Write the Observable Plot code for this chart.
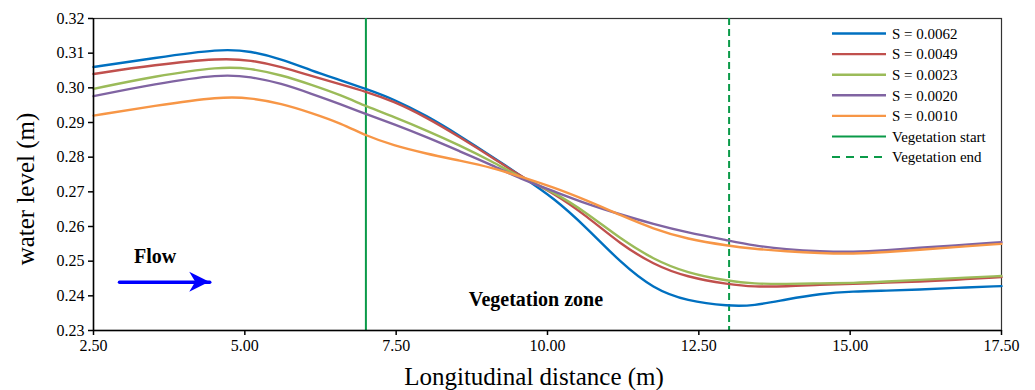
<!DOCTYPE html>
<html>
<head>
<meta charset="utf-8">
<script src="https://cdn.jsdelivr.net/npm/d3@7"></script>
<script src="https://cdn.jsdelivr.net/npm/@observablehq/plot@0.6"></script>
<style>
  html, body { margin: 0; padding: 0; background: #fff; }
  #chart { width: 1035px; height: 390px; }
</style>
</head>
<body>
<div id="chart"></div>
<script>
// ---- data ----
const distance = [2.5, 3.5, 4.6, 5.1, 5.6, 6.1, 6.6, 7.0, 7.45, 8.0, 8.55, 9.1, 9.55, 10.1, 10.65, 11.2, 11.75, 12.3, 13.0, 13.4, 13.95, 14.5, 15.05, 15.6, 16.15, 16.7, 17.5];
const s0062 = [0.3060, 0.3086, 0.3113, 0.3106, 0.3083, 0.3050, 0.3021, 0.2997, 0.2968, 0.2920, 0.2862, 0.2800, 0.2747, 0.2683, 0.2596, 0.2497, 0.2420, 0.2385, 0.2370, 0.2371, 0.2390, 0.2406, 0.2413, 0.2415, 0.2418, 0.2423, 0.2428];
const s0049 = [0.3040, 0.3066, 0.3086, 0.3080, 0.3061, 0.3034, 0.3009, 0.2989, 0.2962, 0.2915, 0.2858, 0.2798, 0.2745, 0.2697, 0.2630, 0.2550, 0.2490, 0.2454, 0.2433, 0.2426, 0.2427, 0.2432, 0.2435, 0.2438, 0.2441, 0.2446, 0.2454];
const s0023 = [0.2997, 0.3033, 0.3062, 0.3056, 0.3037, 0.3009, 0.2978, 0.2947, 0.2917, 0.2877, 0.2834, 0.2786, 0.2742, 0.2700, 0.2639, 0.2565, 0.2505, 0.2466, 0.2442, 0.2435, 0.2434, 0.2436, 0.2437, 0.2441, 0.2446, 0.2451, 0.2457];
const s0020 = [0.2976, 0.3011, 0.3040, 0.3032, 0.3013, 0.2983, 0.2952, 0.2924, 0.2896, 0.2858, 0.2817, 0.2776, 0.2738, 0.2702, 0.2665, 0.2635, 0.2607, 0.2583, 0.2559, 0.2545, 0.2534, 0.2528, 0.2526, 0.2531, 0.2539, 0.2545, 0.2555];
const s0010 = [0.2920, 0.2948, 0.2975, 0.2971, 0.2955, 0.2928, 0.2897, 0.2862, 0.2834, 0.2810, 0.2790, 0.2769, 0.2744, 0.2713, 0.2675, 0.2633, 0.2593, 0.2564, 0.2544, 0.2536, 0.2528, 0.2523, 0.2521, 0.2526, 0.2533, 0.2540, 0.2550];
const seriesNames = ["S = 0.0062", "S = 0.0049", "S = 0.0023", "S = 0.0020", "S = 0.0010"];
const seriesValues = [s0062, s0049, s0023, s0020, s0010];
const seriesColors = ["#0070C0", "#C0504D", "#9BBB59", "#8064A2", "#F79646"];
const vegStart = 7;
const vegEnd = 13;
const vegColor = "#0A9A48";
const xTicks = [2.5, 5, 7.5, 10, 12.5, 15, 17.5];
const yTicks = [0.23, 0.24, 0.25, 0.26, 0.27, 0.28, 0.29, 0.30, 0.31, 0.32];
const flowArrow = {x1: 2.93, x2: 4.42, y: 0.2439};
const flowLabel = {x: 3.17, y: 0.2513, text: "Flow"};
const zoneLabel = {x: 8.70, y: 0.2390, text: "Vegetation zone"};
const legendNames = [...seriesNames, "Vegetation start", "Vegetation end"];

// ---- tidy table ----
const rows = [];
seriesNames.forEach((name, i) => {
  distance.forEach((d, j) => rows.push({series: name, x: d, y: seriesValues[i][j], color: seriesColors[i]}));
});

const font = "'Liberation Serif', 'Times New Roman', serif";

const svg = Plot.plot({
  width: 1035,
  height: 390,
  marginLeft: 93,
  marginRight: 34,
  marginTop: 18,
  marginBottom: 60,
  style: {fontFamily: font, fontSize: "16px", color: "#000", background: "#fff", overflow: "visible"},
  x: {domain: [2.5, 17.5], label: null},
  y: {domain: [0.23, 0.32], label: null},
  marks: [
    Plot.frame({stroke: "#333", strokeWidth: 1.2}),
    Plot.ruleX([vegStart], {stroke: vegColor, strokeWidth: 2}),
    Plot.ruleX([vegEnd], {stroke: vegColor, strokeWidth: 2, strokeDasharray: "7,4"}),
    Plot.line(rows, {x: "x", y: "y", z: "series", stroke: "color", strokeWidth: 2.4, curve: "basis"}),
    Plot.axisX({ticks: xTicks, tickFormat: d => d.toFixed(2), tickSize: 5, tickPadding: 4, stroke: "#000", strokeWidth: 1.5, fontSize: 16}),
    Plot.axisY({ticks: yTicks, tickFormat: d => d.toFixed(2), tickSize: 5, tickPadding: 4, stroke: "#000", strokeWidth: 1.5, fontSize: 16}),
    Plot.ruleX([2.5], {stroke: "#000", strokeWidth: 1.5}),
    Plot.ruleY([0.23], {stroke: "#000", strokeWidth: 1.5}),
    Plot.arrow([flowArrow], {x1: "x1", x2: "x2", y1: "y", y2: "y", stroke: "#0000FF", strokeWidth: 3.5, headLength: 0}),
    Plot.text([flowLabel], {x: "x", y: "y", text: "text", textAnchor: "start", fontWeight: "bold", fontSize: 20, fill: "#000"}),
    Plot.text([zoneLabel], {x: "x", y: "y", text: "text", textAnchor: "start", fontWeight: "bold", fontSize: 20, fill: "#000"})
  ]
});

const sx = svg.scale("x"), sy = svg.scale("y");
const s = d3.select(svg);

// stealth arrow head
{
  const tx = sx.apply(flowArrow.x2), ty = sy.apply(flowArrow.y);
  s.append("path")
    .attr("d", `M${tx},${ty} L${tx - 20},${ty - 10} L${tx - 14},${ty} L${tx - 20},${ty + 10} Z`)
    .attr("fill", "#0000FF");
}

// axis titles
s.append("text")
  .attr("x", 534).attr("y", 385)
  .attr("text-anchor", "middle")
  .attr("font-family", font).attr("font-size", 25).attr("fill", "#000")
  .text("Longitudinal distance (m)");
s.append("text")
  .attr("transform", "translate(34,189) rotate(-90)")
  .attr("text-anchor", "middle")
  .attr("font-family", font).attr("font-size", 25).attr("fill", "#000")
  .text("water level (m)");

// legend
const lg = s.append("g").attr("font-family", font).attr("font-size", 15).attr("text-anchor", "start");
legendNames.forEach((name, i) => {
  const y = 33.5 + i * 20.6;
  const color = i < seriesColors.length ? seriesColors[i] : vegColor;
  lg.append("line")
    .attr("x1", 832).attr("x2", 886).attr("y1", y).attr("y2", y)
    .attr("stroke", color).attr("stroke-width", i < 5 ? 2.4 : 2)
    .attr("stroke-dasharray", i === 6 ? "8,6" : null);
  lg.append("text")
    .attr("x", 892).attr("y", y).attr("dy", "0.35em")
    .attr("text-anchor", "start")
    .attr("fill", "#000")
    .text(name);
});

document.getElementById("chart").appendChild(svg);
</script>
</body>
</html>
